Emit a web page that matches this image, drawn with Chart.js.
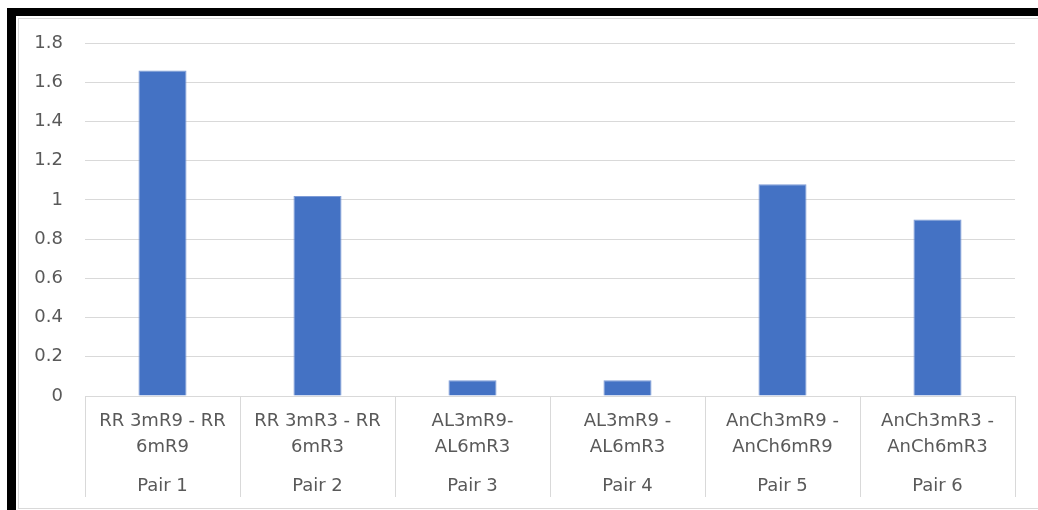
<!DOCTYPE html>
<html>
<head>
<meta charset="utf-8">
<script src="https://cdn.jsdelivr.net/npm/chart.js@4"></script>
<style>
  html, body { margin: 0; padding: 0; background: #fff; width: 1038px; height: 510px; overflow: hidden; }
  #frame { position: absolute; left: 7px; top: 8px; width: 1200px; height: 700px;
           border-left: 9px solid #000; border-top: 8px solid #000; box-sizing: border-box; }
  #inner { position: absolute; left: 18px; top: 18px; width: 1200px; height: 491px;
           border: 1px solid #d9d9d9; box-sizing: border-box; }
  #c { position: absolute; left: 0; top: 0; }
</style>
</head>
<body>
<div id="frame"></div>
<div id="inner"></div>
<canvas id="c" width="1038" height="510"></canvas>
<script>
const comparisonLabels = [
  ['RR 3mR9 - RR', '6mR9'],
  ['RR 3mR3 - RR', '6mR3'],
  ['AL3mR9-', 'AL6mR3'],
  ['AL3mR9 -', 'AL6mR3'],
  ['AnCh3mR9 -', 'AnCh6mR9'],
  ['AnCh3mR3 -', 'AnCh6mR3']
];
const pairLabels = ['Pair 1', 'Pair 2', 'Pair 3', 'Pair 4', 'Pair 5', 'Pair 6'];
const values = [1.66, 1.02, 0.08, 0.08, 1.08, 0.90];
const yTickLabels = ['0', '0.2', '0.4', '0.6', '0.8', '1', '1.2', '1.4', '1.6', '1.8'];

// label rows: first line, spacer, second line, spacers, group label
const categoryLabels = comparisonLabels.map((l, i) => [l[0], '', l[1], '', '', pairLabels[i]]);

const gridColor = '#d9d9d9';
const textColor = '#595959';
const font = { family: 'DejaVu Sans', size: 18, lineHeight: '13px' };

new Chart(document.getElementById('c'), {
  type: 'bar',
  data: {
    labels: categoryLabels,
    datasets: [{
      data: values,
      backgroundColor: '#4472C4',
      borderColor: '#7d9bd6',
      borderWidth: 1,
      barPercentage: 0.31,
      categoryPercentage: 1
    }]
  },
  options: {
    responsive: false,
    animation: false,
    layout: { padding: { left: 0, right: 23, top: 43, bottom: 0 } },
    plugins: { legend: { display: false }, tooltip: { enabled: false } },
    scales: {
      x: {
        offset: true,
        grid: { offset: true, drawOnChartArea: false, drawTicks: true, tickLength: 101, color: gridColor, lineWidth: 1 },
        border: { display: true, color: gridColor, width: 1 },
        ticks: { color: textColor, font: font, padding: -82, maxRotation: 0, minRotation: 0, autoSkip: false },
        afterFit: (s) => { s.height = 114; }
      },
      y: {
        min: 0,
        max: 1.8,
        grid: { color: gridColor, lineWidth: 1, drawTicks: false },
        border: { display: false },
        ticks: {
          stepSize: 0.2,
          color: textColor,
          font: { family: 'DejaVu Sans', size: 18 },
          padding: 22,
          callback: (v, i) => yTickLabels[i]
        },
        afterFit: (s) => { s.width = 85; }
      }
    }
  }
});
</script>
</body>
</html>
